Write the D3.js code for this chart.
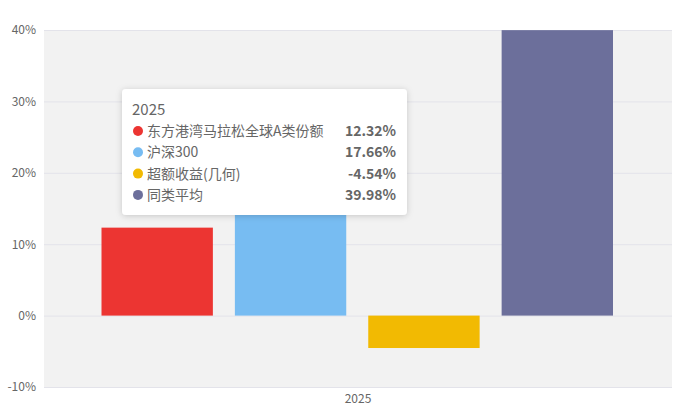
<!DOCTYPE html>
<html><head><meta charset="utf-8">
<script src="https://cdn.jsdelivr.net/npm/d3@7"></script>
<style>
html,body{margin:0;padding:0;background:#fff;}
svg{display:block;font-family:"Noto Sans CJK SC","Noto Sans",sans-serif;}
</style></head>
<body>
<svg id="chart" width="674" height="417"></svg>
<script>
const categories = ["2025"];
const seriesNames = ["东方港湾马拉松全球A类份额", "沪深300", "超额收益(几何)", "同类平均"];
const seriesValues = [12.32, 17.66, -4.54, 39.98];
const seriesColors = ["#EC3532", "#77BCF2", "#F2BA02", "#6C6F9B"];
const yTicks = [-10, 0, 10, 20, 30, 40];

const svg = d3.select("#chart");
const margin = {left: 44, right: 2, top: 30, bottom: 30};
const W = 674, H = 417;
const x0 = d3.scaleBand().domain(categories).range([margin.left, W - margin.right]);
const y = d3.scaleLinear().domain([-10, 40]).range([387, 30]);
const x1 = d3.scaleBand().domain(seriesNames).range([x0("2025") + 57.5, x0("2025") + x0.bandwidth() - 59]).paddingInner(0.165);

// background
svg.append("rect").attr("x", margin.left).attr("y", y(40)).attr("width", W - margin.right - margin.left)
  .attr("height", y(-10) - y(40)).attr("fill", "#f2f2f2");

// grid
svg.append("g").selectAll("line").data(yTicks).join("line")
  .attr("x1", margin.left).attr("x2", W - margin.right)
  .attr("y1", d => y(d) + 0.5).attr("y2", d => y(d) + 0.5)
  .attr("stroke", "#e3e3ea").attr("stroke-width", 1);

// y axis labels
const yAxis = d3.axisLeft(y).tickValues(yTicks).tickFormat(d => d + "%").tickSize(0).tickPadding(8);
const gy = svg.append("g").attr("transform", `translate(${margin.left},0)`).call(yAxis);
gy.select(".domain").remove();
gy.selectAll("text").attr("fill", "#666").attr("font-size", 12).style("font-family", "'Noto Sans CJK SC','Noto Sans',sans-serif");

// bars
const clipId = "plotclip";
svg.append("clipPath").attr("id", clipId).append("rect")
  .attr("x", margin.left).attr("y", y(40)).attr("width", W - margin.right - margin.left).attr("height", y(-10) - y(40));
svg.append("g").attr("clip-path", `url(#${clipId})`).selectAll("rect").data(seriesValues).join("rect")
  .attr("x", (d, i) => x1(seriesNames[i]))
  .attr("width", x1.bandwidth())
  .attr("y", d => y(Math.max(0, d)))
  .attr("height", d => Math.abs(y(d) - y(0)))
  .attr("fill", (d, i) => seriesColors[i]);

// x axis
const xAxis = d3.axisBottom(x0).tickSize(0).tickPadding(7);
const gx = svg.append("g").attr("transform", `translate(0,${y(-10)})`).call(xAxis);
gx.select(".domain").remove();
gx.selectAll("text").attr("fill", "#666").attr("font-size", 12).style("font-family", "'Noto Sans CJK SC','Noto Sans',sans-serif");

// tooltip
const defs = svg.append("defs");
const f = defs.append("filter").attr("id", "sh").attr("x", "-20%").attr("y", "-20%").attr("width", "140%").attr("height", "140%");
f.append("feDropShadow").attr("dx", 0).attr("dy", 1).attr("stdDeviation", 3).attr("flood-color", "#000").attr("flood-opacity", 0.18);
const tt = svg.append("g").attr("transform", "translate(122,89)");
tt.append("rect").attr("width", 285).attr("height", 126).attr("rx", 4).attr("fill", "#fff").attr("filter", "url(#sh)");
tt.append("text").attr("x", 10).attr("y", 26).attr("font-size", 15).attr("fill", "#666").text(categories[0]);
const rows = tt.selectAll("g.row").data(seriesNames).join("g").attr("class", "row")
  .attr("transform", (d, i) => `translate(0,${42 + i * 21.3})`);
rows.append("circle").attr("cx", 16).attr("cy", 0).attr("r", 5).attr("fill", (d, i) => seriesColors[i]);
rows.append("text").attr("x", 25).attr("y", 5).attr("font-size", 14).attr("fill", "#666").text(d => d);
rows.append("text").attr("x", 274).attr("y", 5).attr("font-size", 14).attr("font-weight", "bold")
  .attr("text-anchor", "end").attr("fill", "#666").text((d, i) => seriesValues[i].toFixed(2) + "%");
</script>
</body></html>
